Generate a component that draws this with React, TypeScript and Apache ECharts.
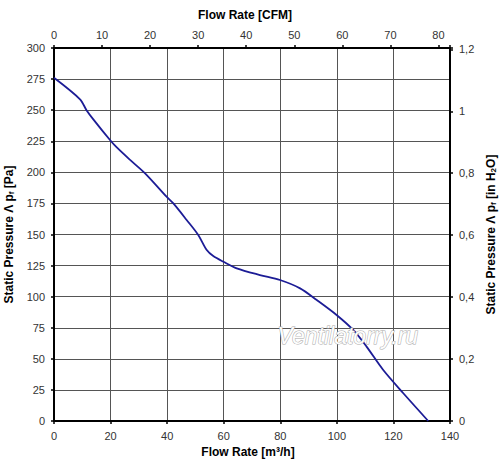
import React, { useEffect, useRef } from "react";
import * as echarts from "echarts";

const flowM3h = [0, 9.2, 11.5, 13.9, 19.8, 22.2, 26.9, 32.2, 39.8, 42.2, 46.9, 51, 54, 56.3, 59.9, 64.6, 72.8, 79.9, 87, 92.9, 99.9, 105.8, 110.5, 116.4, 123.5, 132.3];
const pressurePa = [276, 258.7, 250, 242.6, 226, 220, 210, 199.2, 180.4, 175, 161.7, 149.6, 137.5, 132.7, 128.1, 122.8, 117.4, 113.4, 106.7, 97.3, 85.3, 73.2, 59.8, 41, 22.3, 0];

const M3H_TO_CFM = 0.588578;
const PA_TO_INH2O = 1 / 249.089;
const FLOW_MAX = 140;
const PA_MAX = 300;

const FONT = "'Liberation Sans', Arial, sans-serif";

export default function App() {
  const ref = useRef<HTMLDivElement>(null);
  useEffect(() => {
    if (!ref.current) return;
    const chart = echarts.init(ref.current, undefined, { renderer: "svg" });
    const axisLine = { show: true, onZero: false, lineStyle: { color: "#000", width: 2 } };
    const tick = { show: true, inside: false, length: 3, lineStyle: { color: "#000", width: 1.5 } };
    const label = { color: "#333", fontSize: 11, fontFamily: FONT };
    const split = { show: true, lineStyle: { color: "#555", width: 1 } };
    const nameStyle = { color: "#000", fontSize: 12, fontWeight: "bold" as const, fontFamily: FONT };
    const rich = {
      sub: { fontSize: 8, fontWeight: "bold" as const, fontFamily: FONT, color: "#000", padding: [5, 0, 0, 0] },
    };
    chart.setOption({
      animation: false,
      backgroundColor: "#fff",
      grid: { left: 54, right: 50, top: 48, bottom: 52, containLabel: false, outerBoundsMode: "none" },
      xAxis: [
        {
          type: "value",
          position: "bottom",
          min: 0,
          max: FLOW_MAX,
          interval: 20,
          axisLine,
          axisTick: tick,
          axisLabel: { ...label, margin: 9 },
          splitLine: split,
          name: "Flow Rate [m³/h]",
          nameLocation: "middle",
          nameGap: 21,
          nameTextStyle: { ...nameStyle, padding: [0, 8, 0, 0] },
        },
        {
          type: "value",
          position: "top",
          min: 0,
          max: FLOW_MAX * M3H_TO_CFM,
          interval: 10,
          axisLine,
          axisTick: tick,
          axisLabel: {
            ...label,
            margin: 8,
            formatter: (v: number) => (Math.abs(v / 10 - Math.round(v / 10)) < 1e-6 ? String(Math.round(v)) : ""),
          },
          splitLine: { show: false },
          name: "Flow Rate [CFM]",
          nameLocation: "middle",
          nameGap: 27,
          nameTextStyle: { ...nameStyle, padding: [0, 14, 0, 0] },
        },
      ],
      yAxis: [
        {
          type: "value",
          position: "left",
          min: 0,
          max: PA_MAX,
          interval: 25,
          axisLine,
          axisTick: tick,
          axisLabel: { ...label, margin: 9 },
          splitLine: split,
          name: "Static Pressure Λ p{sub|f} [Pa]",
          nameLocation: "middle",
          nameGap: 31,
          nameRotate: 90,
          nameTextStyle: { ...nameStyle, rich },
        },
        {
          type: "value",
          position: "right",
          min: 0,
          max: PA_MAX * PA_TO_INH2O,
          interval: 0.2,
          axisLine,
          axisTick: tick,
          axisLabel: {
            ...label,
            margin: 9,
            formatter: (v: number) => {
              const k = v / 0.2;
              if (Math.abs(k - Math.round(k)) > 1e-6) return "";
              const r = Math.round(k) * 0.2;
              let s = r.toFixed(1);
              if (s.endsWith(".0")) s = s.slice(0, -2);
              return s.replace(".", ",");
            },
          },
          splitLine: { show: false },
          name: "Static Pressure Λ p{sub|f} [in H{sub|2}O]",
          nameLocation: "middle",
          nameGap: 24,
          nameRotate: 90,
          nameTextStyle: { ...nameStyle, rich },
        },
      ],
      graphic: [
        {
          type: "text",
          left: 277,
          top: 324,
          z: 100,
          style: {
            text: "Ventilatorry.ru",
            font: `italic 23px ${FONT}`,
            fill: "#fdfdfd",
            stroke: "#a8a8a8",
            lineWidth: 1,
          },
        },
      ],
      series: [
        {
          type: "line",
          xAxisIndex: 0,
          yAxisIndex: 0,
          data: flowM3h.map((q, i) => [q, pressurePa[i]]),
          smooth: 0.3,
          showSymbol: false,
          lineStyle: { color: "#1c1c96", width: 1.8 },
          z: 3,
        },
      ],
    });
    return () => chart.dispose();
  }, []);
  return <div ref={ref} style={{ position: "fixed", left: 0, top: 0, width: 500, height: 473 }} />;
}
